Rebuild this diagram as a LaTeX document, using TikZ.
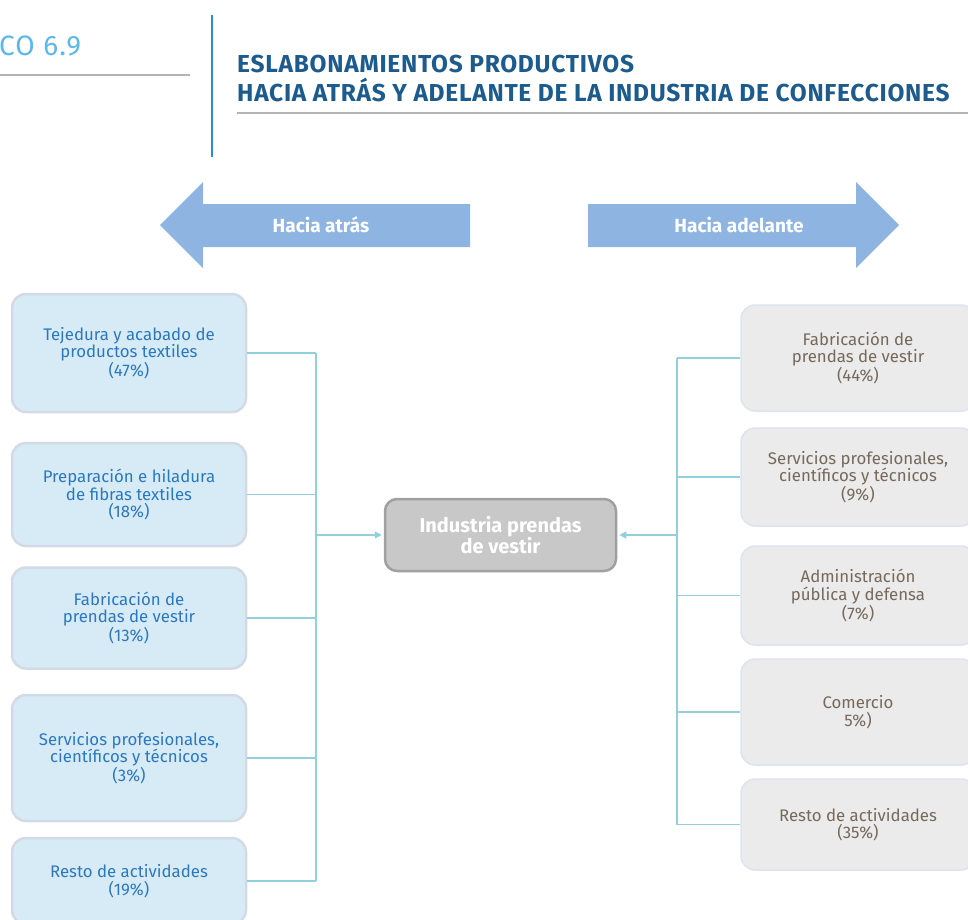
\documentclass[tikz,border=0pt]{standalone}
\usepackage{fontspec}
\setmainfont{Fira Sans}
\usetikzlibrary{arrows.meta, positioning, calc}
\definecolor{arrowfill}{HTML}{8EB4E1}
\definecolor{backfill}{HTML}{D7EBF7}
\definecolor{backline}{HTML}{D3DAE5}
\definecolor{backtext}{HTML}{2B78BE}
\definecolor{fwdfill}{HTML}{EBEBEB}
\definecolor{fwdline}{HTML}{DCE4EF}
\definecolor{fwdtext}{HTML}{76695B}
\definecolor{linkcolor}{HTML}{92D0DC}
\definecolor{hubfill}{HTML}{C8C8C8}
\definecolor{hubline}{HTML}{A0A0A0}
\definecolor{titlecolor}{HTML}{1D5B8C}
\definecolor{numcolor}{HTML}{5DB7EA}
\definecolor{rulecolor}{HTML}{B4B4B4}
\definecolor{barcolor}{HTML}{2D8AD5}

\begin{document}
\begin{tikzpicture}[x=1pt, y=-1pt,
    every node/.style={inner sep=0pt, align=center},
    body/.style={font=\fontsize{16.8}{17.6}\selectfont},
    backbox/.style={body, draw=backline, fill=backfill, text=backtext, line width=2.5pt,
        rounded corners=14pt, minimum width=234pt},
    fwdbox/.style={body, draw=fwdline, fill=fwdfill, text=fwdtext, line width=1.5pt,
        rounded corners=14pt, minimum width=234pt},
    hub/.style={font=\bfseries\fontsize{20}{18.5}\selectfont, draw=hubline, fill=hubfill,
        text=white, line width=2.5pt, rounded corners=12pt, minimum width=231pt, minimum height=72pt},
    headtxt/.style={font=\bfseries\fontsize{19}{19}\selectfont, text=white},
    link/.style={draw=linkcolor, line width=1.3pt},
    feed/.style={link, -{Triangle[length=7pt, width=7pt]}, shorten >=2pt},
]
\useasboundingbox (0,0) rectangle (968,919);

% ---------------- heading
\node[font=\fontsize{28}{30}\addfontfeatures{LetterSpace=4}\selectfont, text=numcolor, anchor=base west] (num) at (-1,55) {CO 6.9};
\draw[rulecolor, line width=2.5pt] (0,75) -- (190,75);
\draw[barcolor, line width=2.5pt] (212,15) -- (212,157);
\node[font=\bfseries\fontsize{24.5}{28.5}\addfontfeatures{LetterSpace=3}\selectfont, text=titlecolor, anchor=north west, align=left] (title) at (237,55)
    {ESLABONAMIENTOS PRODUCTIVOS\\ HACIA ATRÁS Y ADELANTE DE LA INDUSTRIA DE CONFECCIONES};
\draw[rulecolor, line width=2.5pt] (237,113) -- (968,113);

% ---------------- direction arrows
\fill[arrowfill] (470,204) -- (203,204) -- (203,182) -- (160,225) -- (203,268) -- (203,247) -- (470,247) -- cycle;
\fill[arrowfill] (588,204) -- (856,204) -- (856,182) -- (899,225) -- (856,268) -- (856,247) -- (588,247) -- cycle;
\node[headtxt] (atras) at (321,225) {Hacia atrás};
\node[headtxt] (adelante) at (739,225) {Hacia adelante};

% ---------------- centre
\node[hub] (hub) at (500.5,535) {Industria prendas\\ de vestir};

% ---------------- backward linkages
\foreach \n/\y/\h/\txt in {
    1/353/118/{Tejedura y acabado de\\ productos textiles\\ (47\%)},
    2/494.5/103/{Preparación e hiladura\\ de fibras textiles\\ (18\%)},
    3/618/101/{Fabricación de\\ prendas de vestir\\ (13\%)},
    4/758/126/{Servicios profesionales,\\ científicos y técnicos\\ (3\%)},
    5/881/86/{Resto de actividades\\ (19\%)}}{
    \node[backbox, minimum height=\h pt] (b\n) at (129,\y) {\txt};
}
\coordinate (lbus) at (316,535);
\foreach \n in {1,...,5}{
    \draw[link] (b\n.east) -- (b\n.east -| lbus);
}
\draw[link] (b1.east -| lbus) -- (b5.east -| lbus);
\draw[feed] (lbus |- hub.west) -- (hub.west);

% ---------------- forward linkages
\foreach \n/\y/\h/\txt in {
    1/358/106/{Fabricación de\\ prendas de vestir\\ (44\%)},
    2/477/98/{Servicios profesionales,\\ científicos y técnicos\\ (9\%)},
    3/595.5/99/{Administración\\ pública y defensa\\ (7\%)},
    4/712/106/{Comercio\\ 5\%)},
    5/824.5/91/{Resto de actividades\\ (35\%)}}{
    \node[fwdbox, minimum height=\h pt] (f\n) at (858,\y) {\txt};
}
\coordinate (rbus) at (677,535);
\foreach \n in {1,...,5}{
    \draw[link] (f\n.west) -- (f\n.west -| rbus);
}
\draw[link] (f1.west -| rbus) -- (f5.west -| rbus);
\draw[feed] (rbus |- hub.east) -- (hub.east);
\end{tikzpicture}
\end{document}
